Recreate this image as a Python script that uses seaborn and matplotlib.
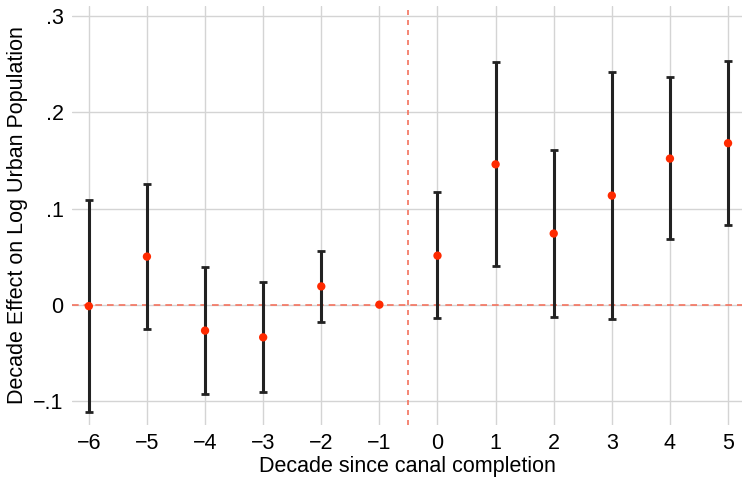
import numpy as np
import pandas as pd
import matplotlib
matplotlib.use('Agg')
import matplotlib.pyplot as plt
import seaborn as sns

# Event-study estimates
decade = [-6, -5, -4, -3, -2, -1, 0, 1, 2, 3, 4, 5]
coef = [-0.0015, 0.050, -0.027, -0.034, 0.019, 0.0, 0.051, 0.146, 0.074, 0.1135, 0.152, 0.168]
ci_low = [-0.112, -0.025, -0.093, -0.091, -0.018, 0.0, -0.0135, 0.040, -0.0125, -0.0145, 0.068, 0.083]
ci_high = [0.109, 0.126, 0.039, 0.024, 0.0555, 0.0, 0.117, 0.252, 0.161, 0.242, 0.2365, 0.2535]

ytick_vals = [-0.1, 0, 0.1, 0.2, 0.3]
ytick_labels = ['\u2212.1', '0', '.1', '.2', '.3']

df = pd.DataFrame({'decade': decade, 'coef': coef, 'lo': ci_low, 'hi': ci_high})

sns.set_style('whitegrid', {'grid.color': '#d4d4d4', 'axes.edgecolor': 'white',
                            'text.color': 'black', 'xtick.color': 'black',
                            'ytick.color': 'black', 'axes.labelcolor': 'black'})
plt.rcParams['font.family'] = ['Liberation Sans', 'DejaVu Sans']

fig, ax = plt.subplots(figsize=(7.42, 4.80), dpi=100)
fig.subplots_adjust(left=0.097, right=1.0, top=0.988, bottom=0.115)

# reference lines
ax.axhline(0, color='#f4725e', linestyle=(0, (4, 3)), linewidth=1.2, zorder=1)
ax.axvline(-0.5, color='#f4725e', linestyle=(0, (3, 3)), linewidth=1.2, zorder=1)

# confidence intervals (skip the omitted reference decade)
ci = df[df['decade'] != -1]
ax.errorbar(ci['decade'], ci['coef'],
            yerr=[ci['coef'] - ci['lo'], ci['hi'] - ci['coef']],
            fmt='none', ecolor='#222222', elinewidth=2.2, capsize=3.0,
            capthick=2.0, zorder=2)

sns.scatterplot(data=df, x='decade', y='coef', color='#ff2a00', s=36,
                edgecolor='none', zorder=3, ax=ax)

ax.set_xlim(-6.29, 5.24)
ax.set_ylim(-0.125, 0.311)
ax.set_xticks(decade)
ax.set_xticklabels([str(d).replace('-', '\u2212') for d in decade])
ax.set_yticks(ytick_vals)
ax.set_yticklabels(ytick_labels)
ax.tick_params(axis='both', labelsize=15.5, length=0, pad=6)
ax.set_xlabel('Decade since canal completion', fontsize=15.5, labelpad=1)
ax.set_ylabel('Decade Effect on Log Urban Population', fontsize=15.5, labelpad=4)
ax.grid(True, linewidth=1.0)
sns.despine(ax=ax, left=True, bottom=True)

fig.savefig('out.png', dpi=100)
